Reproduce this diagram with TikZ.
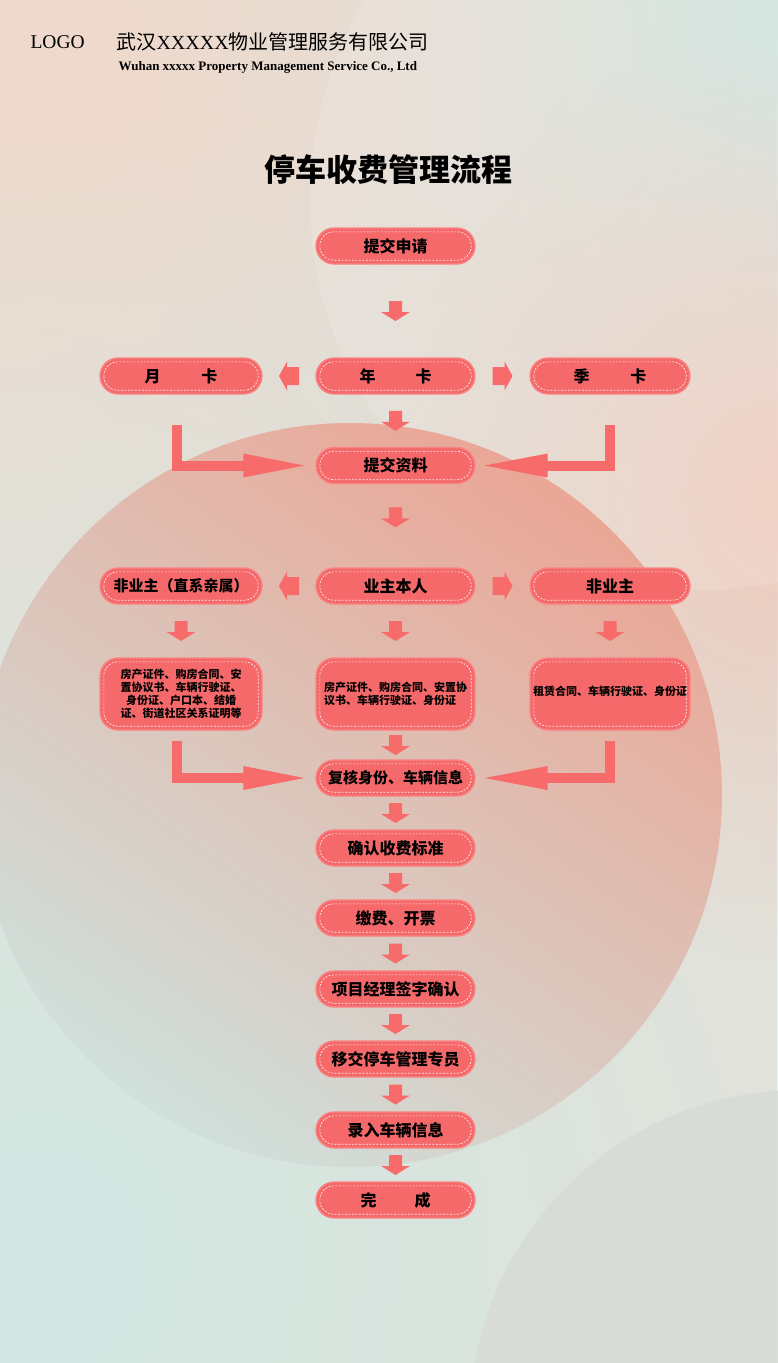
\documentclass[tikz,border=0pt]{standalone}
\usepackage{fontspec}
\setmainfont{Liberation Serif}
\newfontfamily\cjk{Noto Sans CJK SC}
\usetikzlibrary{calc,fadings}
\definecolor{bgbase}{HTML}{E9E0D8}
\definecolor{mintc}{HTML}{CCE3DF}
\definecolor{peachc}{HTML}{F0D9CC}
\definecolor{mintb}{HTML}{D2E7E2}
\definecolor{peachr}{HTML}{F0CABC}
\definecolor{salm}{HTML}{EAA696}
\definecolor{salm2}{HTML}{EDBAAA}
\definecolor{mintg}{HTML}{D0E0DB}
\definecolor{brc}{HTML}{D7DCD6}
\definecolor{coral}{HTML}{F5696A}
\definecolor{coraledge}{HTML}{F88583}
\definecolor{coral2}{HTML}{F76B6B}
\tikzfading[name=softdisc, inner color=transparent!0, outer color=transparent!100]
\tikzset{
  pill/.style={rectangle, rounded corners=18pt, fill=coral, draw=coraledge, line width=1.3pt,
    minimum height=36pt, inner sep=0pt, text=black,
    font=\cjk\bfseries\fontsize{16}{16}\selectfont},
  tallbox/.style={pill, minimum height=72pt, font=\cjk\bfseries\fontsize{11}{13}\selectfont},
  innerdash/.style={draw=white, line width=0.7pt, dash pattern=on 2pt off 1.5pt,
    rounded corners=13.5pt, opacity=0.85},
  arrowfill/.style={fill=coral2},
  lbar/.style={draw=coral2, line width=10pt, line join=miter},
}
\newcommand{\flowbox}[6][pill]{%
  \node[#1, minimum width=#5] (#2) at (#3,#4) {#6};
  \draw[innerdash] ([shift={(4.5,-4.5)}]#2.south west) rectangle ([shift={(-4.5,4.5)}]#2.north east);
}
\newcommand{\darr}[3][0.5]{%
  \begin{scope}[shift={($(#2.south)!#1!(#3.north)$)}]
    \fill[arrowfill] (-6.5,-10) -- (6.5,-10) -- (6.5,1) -- (14.5,1) -- (0,10) -- (-14.5,1) -- (-6.5,1) -- cycle;
  \end{scope}}
\newcommand{\rarr}[2]{%
  \begin{scope}[shift={($(#1.east)!0.5!(#2.west)$)}]
    \fill[arrowfill] (-10,-9) -- (2,-9) -- (2,-14.5) -- (10,0) -- (2,14.5) -- (2,9) -- (-10,9) -- cycle;
  \end{scope}}
\newcommand{\larr}[2]{%
  \begin{scope}[shift={($(#1.west)!0.5!(#2.east)$)}, xscale=-1]
    \fill[arrowfill] (-10,-9) -- (2,-9) -- (2,-14.5) -- (10,0) -- (2,14.5) -- (2,9) -- (-10,9) -- cycle;
  \end{scope}}
\newcommand{\lconnL}[4]{%
  \draw[lbar] ([shift={(#3,#4)}]#1.south) |- ([shift={(-70,0)}]#2.west);
  \fill[arrowfill] ([shift={(-11,0)}]#2.west) -- ([shift={(-72,-12)}]#2.west) -- ([shift={(-72,12)}]#2.west) -- cycle;}
\newcommand{\lconnR}[4]{%
  \draw[lbar] ([shift={(#3,#4)}]#1.south) |- ([shift={(70,0)}]#2.east);
  \fill[arrowfill] ([shift={(9,0)}]#2.east) -- ([shift={(72,-12)}]#2.east) -- ([shift={(72,12)}]#2.east) -- cycle;}
\begin{document}
\begin{tikzpicture}[x=1pt,y=-1pt]
\useasboundingbox (0,0) rectangle (777,1363);
% ---------- background ----------
\fill[bgbase] (0,0) rectangle (777,1363);
\fill[mintc, path fading=softdisc] (777,20) circle (900);
\fill[peachc, path fading=softdisc] (60,80) circle (760);
\fill[mintb, path fading=softdisc] (40,1260) circle (1150);
\fill[peachr, path fading=softdisc] (790,500) circle (460);
\fill[white, opacity=0.14] (700,200) circle (390);
\shade[top color=salm, middle color=salm2, bottom color=mintg, shading angle=-35] (350,795) circle (372);
\fill[brc, opacity=0.9] (800,1420) circle (330);
% ---------- header ----------
\node[anchor=west, font=\fontsize{19.5}{19.5}\selectfont] (logo) at (27,42) {LOGO};
\node[anchor=west, font=\cjk\fontsize{20}{20}\selectfont] (company) at (113,42) {武汉{\rmfamily XXXXX}物业管理服务有限公司};
\node[anchor=west, font=\bfseries\fontsize{13}{13}\selectfont] (eng) at (115,67) {Wuhan xxxxx Property Management Service Co., Ltd};
\node[font=\cjk\bfseries\fontsize{31}{31}\selectfont] (title) at (388,170) {停车收费管理流程};
% ---------- boxes ----------
\flowbox{tj}{395.5}{246}{159pt}{提交申请}
\flowbox{yue}{181}{376}{162pt}{月\hspace{41pt}卡}
\flowbox{nian}{395.5}{376}{159pt}{年\hspace{40pt}卡}
\flowbox{ji}{610}{376}{160pt}{季\hspace{41pt}卡}
\flowbox{zl}{395.5}{465.5}{159pt}{提交资料}
\flowbox[pill, font=\cjk\bfseries\fontsize{15}{15}\selectfont]{fq}{181}{586}{162pt}{非业主（直系亲属）}
\flowbox{yz}{395.5}{586}{159pt}{业主本人}
\flowbox{fy}{610}{586}{160pt}{非业主}
\flowbox[tallbox, align=center]{lb}{181}{694}{162pt}{房产证件、购房合同、安\\置协议书、车辆行驶证、\\身份证、户口本、结婚\\证、街道社区关系证明等}
\flowbox[tallbox, align=left]{cb}{395.5}{694}{159pt}{房产证件、购房合同、安置协\\议书、车辆行驶证、身份证}
\flowbox[tallbox]{rb}{610}{694}{160pt}{\raisebox{7pt}{租赁合同、车辆行驶证、身份证}}
\flowbox[pill, font=\cjk\bfseries\fontsize{15}{15}\selectfont]{fh}{395.5}{778}{159pt}{复核身份、车辆信息}
\flowbox{qr}{395.5}{848}{159pt}{确认收费标准}
\flowbox{jf}{395.5}{918}{159pt}{缴费、开票}
\flowbox{xm}{395.5}{989}{159pt}{项目经理签字确认}
\flowbox{yj}{395.5}{1059}{159pt}{移交停车管理专员}
\flowbox{lr}{395.5}{1130}{159pt}{录入车辆信息}
\flowbox{wc}{395.5}{1200}{159pt}{完\hspace{38pt}成}
% ---------- connectors ----------
\darr{tj}{nian}
\larr{nian}{yue}
\rarr{nian}{ji}
\darr{nian}{zl}
\lconnL{yue}{zl}{-4}{30}
\lconnR{ji}{zl}{0}{30}
\darr[0.4]{zl}{yz}
\larr{yz}{fq}
\rarr{yz}{fy}
\darr{fq}{lb}
\darr{yz}{cb}
\darr{fy}{rb}
\darr{cb}{fh}
\lconnL{lb}{fh}{-4}{10}
\lconnR{rb}{fh}{0}{10}
\darr{fh}{qr}
\darr{qr}{jf}
\darr{jf}{xm}
\darr{xm}{yj}
\darr{yj}{lr}
\darr{lr}{wc}
\end{tikzpicture}
\end{document}
